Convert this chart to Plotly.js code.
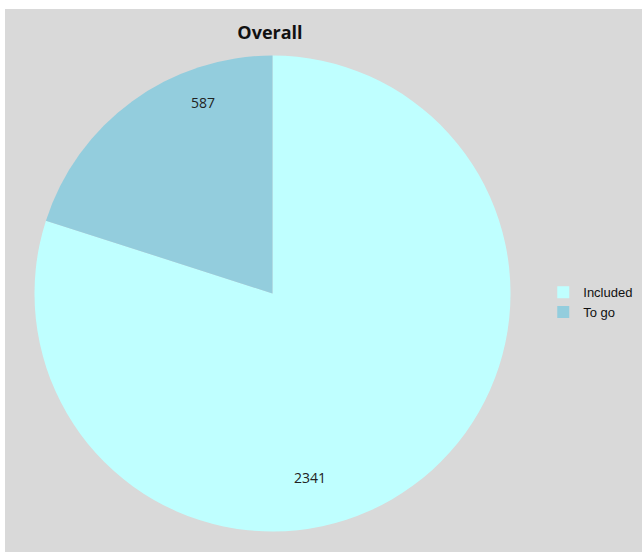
<!DOCTYPE html>
<html>
<head>
<meta charset="utf-8">
<script src="https://cdn.plot.ly/plotly-3.0.1.min.js"></script>
<style>
html,body{margin:0;padding:0;background:#ffffff;}
#chart{position:absolute;left:5px;top:9px;width:637px;height:543px;}
</style>
</head>
<body>
<div id="chart"></div>
<script>
var categories = ["Included", "To go"];
var values = [2341, 587];
var colors = ["#bfffff", "#93cddd"];
var labelPos = [[0.479, 0.138], [0.311, 0.827]];

var trace = {
  type: "pie",
  labels: categories,
  values: values,
  sort: false,
  direction: "clockwise",
  rotation: 0,
  marker: {colors: colors, line: {width: 0}},
  textinfo: "none",
  hoverinfo: "label+value",
  domain: {x: [0.0463, 0.7936], y: [0.0368, 0.9153]}
};

var annotations = values.map(function (v, i) {
  return {
    text: String(v),
    x: labelPos[i][0], y: labelPos[i][1],
    xref: "paper", yref: "paper",
    xanchor: "center", yanchor: "middle",
    showarrow: false,
    font: {family: "Open Sans, Liberation Sans, sans-serif", size: 14, color: "#222222"}
  };
});

var layout = {
  width: 637, height: 543,
  margin: {l: 0, r: 0, t: 0, b: 0, autoexpand: false},
  paper_bgcolor: "#d9d9d9",
  plot_bgcolor: "#d9d9d9",
  title: {
    text: "<b>Overall</b>",
    x: 0.416, xanchor: "center", xref: "paper",
    y: 0.956, yanchor: "middle", yref: "container",
    font: {family: "Open Sans, Liberation Sans, sans-serif", size: 18, color: "#111111"}
  },
  showlegend: true,
  legend: {
    x: 0.845, xanchor: "left", y: 0.46, yanchor: "middle",
    bgcolor: "rgba(0,0,0,0)",
    font: {family: "Liberation Sans, Arial, sans-serif", size: 13, color: "#111111"},
    itemwidth: 30,
    traceorder: "normal"
  },
  annotations: annotations
};

Plotly.newPlot("chart", [trace], layout, {displayModeBar: false, staticPlot: true});
</script>
</body>
</html>
